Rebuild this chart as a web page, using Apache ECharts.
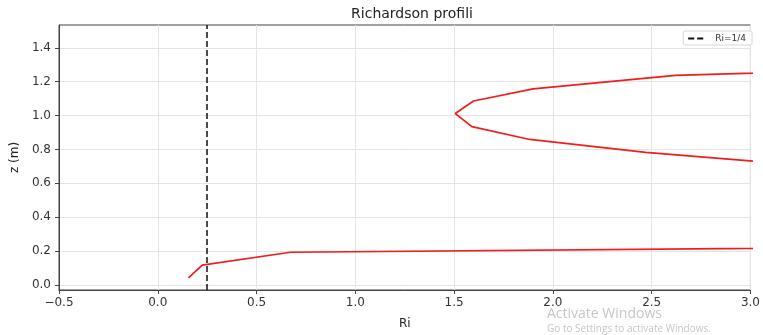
<!DOCTYPE html>
<html>
<head>
<meta charset="utf-8">
<script src="https://cdn.jsdelivr.net/npm/echarts@6/dist/echarts.min.js"></script>
<style>
  html, body { margin: 0; padding: 0; background: #fff; }
  #chart { width: 763px; height: 335px; }
</style>
</head>
<body>
<div id="chart"></div>
<script>
// Richardson number profile: Ri at each height z (m)
const zLevels = [0.041, 0.117, 0.193, 0.268, 0.345, 0.42, 0.50, 0.58, 0.66, 0.708,
                 0.783, 0.859, 0.935, 1.012, 1.086, 1.158, 1.238, 1.313, 1.39, 1.464];
const riValues = [0.155, 0.225, 0.672, 8.3, 14.0, 18.0, 15.0, 9.0, 5.0, 3.25,
                  2.47, 1.883, 1.590, 1.506, 1.598, 1.900, 2.62, 5.0, 8.0, 12.0];

// Critical Richardson number
const criticalRi = 0.25;
const criticalLabel = 'Ri=1/4';

// Axis ticks
const xTicks = [-0.5, 0.0, 0.5, 1.0, 1.5, 2.0, 2.5, 3.0];
const yTicks = [0.0, 0.2, 0.4, 0.6, 0.8, 1.0, 1.2, 1.4];

const fmt = v => v.toFixed(1).replace('-', '\u2212');
const FONT = 'DejaVu Sans';

const chart = echarts.init(document.getElementById('chart'), null, { renderer: 'canvas' });

chart.setOption({
  animation: false,
  backgroundColor: '#ffffff',
  textStyle: { fontFamily: FONT },
  title: {
    text: 'Richardson profili',
    left: 407,
    top: 2,
    textAlign: 'center',
    textStyle: { fontFamily: FONT, fontSize: 14, fontWeight: 'normal', color: '#222' }
  },
  legend: {
    right: 11,
    top: 31,
    data: [{ name: criticalLabel, icon: 'path://M0,0h6v2h-6z M9,0h6v2h-6z' }],
    itemWidth: 15,
    itemHeight: 3,
    padding: [3, 6, 2, 5],
    backgroundColor: '#ffffff',
    borderColor: '#d6d6d6',
    borderWidth: 1,
    borderRadius: 2,
    textStyle: { fontFamily: FONT, fontSize: 9, color: '#333', padding: [0, 0, 0, 7] }
  },
  grid: {
    left: 59, right: 8, top: 25, bottom: 42,
    show: true,
    borderColor: '#444',
    borderWidth: 1,
    backgroundColor: 'transparent'
  },
  xAxis: {
    type: 'value',
    min: -0.5, max: 3.0, interval: 0.5,
    name: 'Ri',
    nameLocation: 'middle',
    nameGap: 28,
    nameTextStyle: { fontFamily: FONT, fontSize: 12, color: '#222' },
    axisLine: { show: true, onZero: false, lineStyle: { color: '#444', width: 1 } },
    axisTick: { show: true, length: 4, lineStyle: { color: '#444' } },
    axisLabel: {
      fontFamily: FONT, fontSize: 12, color: '#333', margin: 7,
      formatter: v => fmt(v)
    },
    splitLine: { show: true, lineStyle: { color: '#e4e4e4', width: 1 } }
  },
  yAxis: {
    type: 'value',
    min: -0.03, max: 1.535,
    name: 'z (m)',
    nameLocation: 'middle',
    nameGap: 33,
    nameRotate: 90,
    nameTextStyle: { fontFamily: FONT, fontSize: 12, color: '#222' },
    axisLine: { show: true, onZero: false, lineStyle: { color: '#444', width: 1 } },
    axisTick: { show: true, length: 4, lineStyle: { color: '#444' }, customValues: yTicks },
    axisLabel: {
      fontFamily: FONT, fontSize: 12, color: '#333', margin: 8,
      customValues: yTicks,
      formatter: v => fmt(v)
    },
    splitLine: { show: true, lineStyle: { color: '#e4e4e4', width: 1 } }
  },
  series: [
    {
      name: 'Ri(z)',
      type: 'line',
      data: riValues.map((ri, i) => [ri, zLevels[i]]),
      showSymbol: false,
      symbol: 'none',
      clip: true,
      lineStyle: { color: '#f21c1c', width: 1.7 },
      z: 3
    },
    {
      name: criticalLabel,
      type: 'line',
      data: [],
      symbol: 'none',
      lineStyle: { color: '#111', width: 1.5, type: [6, 3] },
      itemStyle: { color: '#111' },
      markLine: {
        silent: true,
        symbol: 'none',
        label: { show: false },
        lineStyle: { color: '#111', width: 1.5, type: [6, 3] },
        data: [{ xAxis: criticalRi }]
      },
      z: 4
    }
  ],
  graphic: [
    {
      type: 'text', left: 547, top: 307, silent: true,
      style: { text: 'Activate Windows', fontFamily: 'Open Sans', fontSize: 14, fill: 'rgba(150,150,150,0.55)' }
    },
    {
      type: 'text', left: 547, top: 324, silent: true,
      style: { text: 'Go to Settings to activate Windows.', fontFamily: 'Open Sans', fontSize: 10, fill: 'rgba(150,150,150,0.55)' }
    }
  ]
});
</script>
</body>
</html>
